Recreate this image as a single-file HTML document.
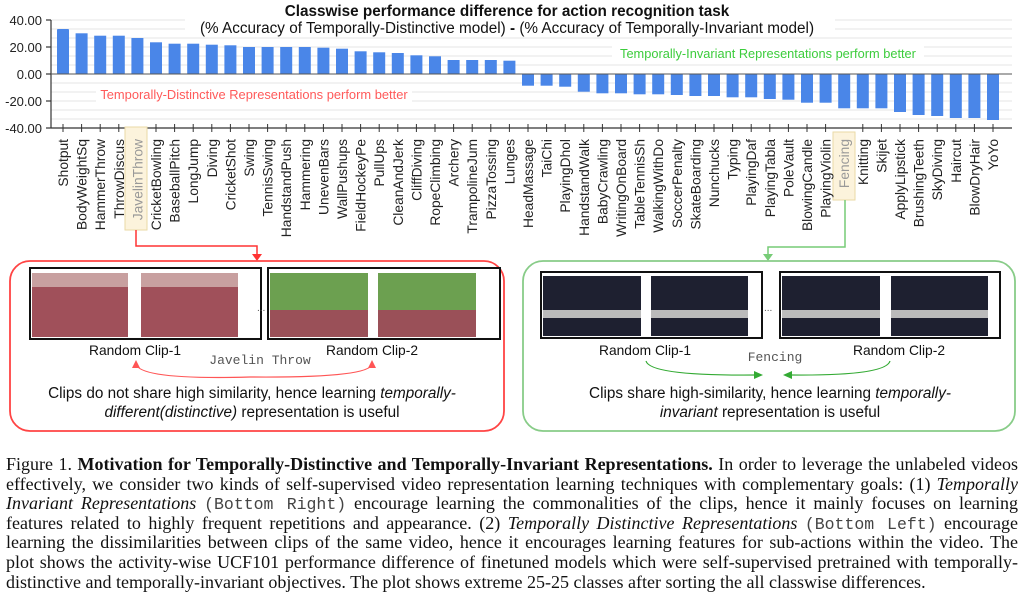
<!DOCTYPE html>
<html><head><meta charset="utf-8"><style>
body{margin:0;width:1024px;height:615px;background:#fff;overflow:hidden;position:relative;font-family:"Liberation Sans",sans-serif}
svg{position:absolute;left:0;top:0}
.cap{position:absolute;left:6px;top:455px;width:1012px;font-family:"Liberation Serif",serif;font-size:18px;line-height:19.6px;color:#111}
.cap div{text-align:justify;text-align-last:justify;white-space:nowrap;height:19.6px}
.cap div.l{text-align-last:left}
.m{font-family:"Liberation Mono",monospace;color:#444;font-size:16.5px;line-height:0}
</style></head><body>
<svg width="1024" height="440" viewBox="0 0 1024 440">
<g stroke="#e6e6e6" stroke-width="1">
<line x1="51" x2="1012" y1="20" y2="20"/><line x1="51" x2="1012" y1="29" y2="29"/><line x1="51" x2="1012" y1="38" y2="38"/><line x1="51" x2="1012" y1="47" y2="47"/><line x1="51" x2="1012" y1="56" y2="56"/><line x1="51" x2="1012" y1="65" y2="65"/><line x1="51" x2="1012" y1="83" y2="83"/><line x1="51" x2="1012" y1="92" y2="92"/><line x1="51" x2="1012" y1="101" y2="101"/><line x1="51" x2="1012" y1="110" y2="110"/><line x1="51" x2="1012" y1="119" y2="119"/>
</g>
<rect x="185" y="0" width="650" height="36" fill="#fff"/>
<rect x="96" y="84" width="316" height="18" fill="#fff"/>
<rect x="612" y="43" width="312" height="18" fill="#fff"/>
<text x="507" y="16" text-anchor="middle" font-size="15.3" font-weight="bold" fill="#111">Classwise performance difference for action recognition task</text>
<text x="507" y="33" text-anchor="middle" font-size="15.3" fill="#111">(% Accuracy of Temporally-Distinctive model) <tspan font-weight="bold">-</tspan> (% Accuracy of Temporally-Invariant model)</text>
<text x="254" y="99" text-anchor="middle" font-size="12.9" fill="#ff5a5a">Temporally-Distinctive Representations perform better</text>
<text x="768" y="58" text-anchor="middle" font-size="12.8" fill="#3ccc3c">Temporally-Invariant Representations perform better</text>
<g font-size="13" fill="#222" text-anchor="end">
<text x="42" y="25">40.00</text><text x="42" y="52">20.00</text><text x="42" y="79">0.00</text><text x="42" y="106">-20.00</text><text x="42" y="133">-40.00</text>
</g>
<g fill="#4a86e8">
<rect x="57" y="29" width="12" height="45" rx="1"/><rect x="75.6" y="33.3" width="12" height="40.7"/><rect x="94.2" y="35.7" width="12" height="38.3"/><rect x="112.8" y="35.7" width="12" height="38.3"/><rect x="131.4" y="38" width="12" height="36"/><rect x="150" y="42.3" width="12" height="31.7"/><rect x="168.6" y="43.7" width="12" height="30.3"/><rect x="187.2" y="43.7" width="12" height="30.3"/><rect x="205.8" y="44.7" width="12" height="29.3"/><rect x="224.4" y="45.3" width="12" height="28.7"/><rect x="243" y="47" width="12" height="27"/><rect x="261.6" y="47" width="12" height="27"/><rect x="280.2" y="47" width="12" height="27"/><rect x="298.8" y="47" width="12" height="27"/><rect x="317.4" y="47.7" width="12" height="26.3"/><rect x="336" y="48.7" width="12" height="25.3"/><rect x="354.6" y="51.3" width="12" height="22.7"/><rect x="373.2" y="52.3" width="12" height="21.7"/><rect x="391.8" y="53" width="12" height="21"/><rect x="410.4" y="55.3" width="12" height="18.7"/><rect x="429" y="56.3" width="12" height="17.7"/><rect x="447.6" y="60" width="12" height="14"/><rect x="466.2" y="60" width="12" height="14"/><rect x="484.8" y="60" width="12" height="14"/><rect x="503.4" y="60.7" width="12" height="13.3"/>
<rect x="522" y="74" width="12" height="11.7"/><rect x="540.6" y="74" width="12" height="11.7"/><rect x="559.2" y="74" width="12" height="12.7"/><rect x="577.8" y="74" width="12" height="17.7"/><rect x="596.4" y="74" width="12" height="19.3"/><rect x="615" y="74" width="12" height="19.3"/><rect x="633.6" y="74" width="12" height="20.3"/><rect x="652.2" y="74" width="12" height="20.3"/><rect x="670.8" y="74" width="12" height="21"/><rect x="689.4" y="74" width="12" height="22"/><rect x="708" y="74" width="12" height="22"/><rect x="726.6" y="74" width="12" height="23.3"/><rect x="745.2" y="74" width="12" height="23.3"/><rect x="763.8" y="74" width="12" height="25"/><rect x="782.4" y="74" width="12" height="25.7"/><rect x="801" y="74" width="12" height="28.7"/><rect x="819.6" y="74" width="12" height="28.7"/><rect x="838.2" y="74" width="12" height="34.3"/><rect x="856.8" y="74" width="12" height="34.3"/><rect x="875.4" y="74" width="12" height="34.3"/><rect x="894" y="74" width="12" height="38"/><rect x="912.6" y="74" width="12" height="41"/><rect x="931.2" y="74" width="12" height="42"/><rect x="949.8" y="74" width="12" height="44"/><rect x="968.4" y="74" width="12" height="44"/><rect x="987" y="74" width="12" height="46"/>
</g>
<g stroke="#333" stroke-width="1.2">
<line x1="51" y1="20" x2="51" y2="128"/><line x1="46" y1="20" x2="51" y2="20"/><line x1="46" y1="47" x2="51" y2="47"/><line x1="46" y1="74" x2="51" y2="74"/><line x1="46" y1="101" x2="51" y2="101"/><line x1="46" y1="128" x2="51" y2="128"/>
<line x1="51" y1="74" x2="1012" y2="74" stroke="#555" stroke-width="1"/>
<line x1="51" y1="128" x2="1012" y2="128"/>
</g>
<g stroke="#333" stroke-width="1">
<line x1="63" y1="124" x2="63" y2="132"/><line x1="81.6" y1="124" x2="81.6" y2="132"/><line x1="100.2" y1="124" x2="100.2" y2="132"/><line x1="118.8" y1="124" x2="118.8" y2="132"/><line x1="156" y1="124" x2="156" y2="132"/><line x1="174.6" y1="124" x2="174.6" y2="132"/><line x1="193.2" y1="124" x2="193.2" y2="132"/><line x1="211.8" y1="124" x2="211.8" y2="132"/><line x1="230.4" y1="124" x2="230.4" y2="132"/><line x1="249" y1="124" x2="249" y2="132"/><line x1="267.6" y1="124" x2="267.6" y2="132"/><line x1="286.2" y1="124" x2="286.2" y2="132"/><line x1="304.8" y1="124" x2="304.8" y2="132"/><line x1="323.4" y1="124" x2="323.4" y2="132"/><line x1="342" y1="124" x2="342" y2="132"/><line x1="360.6" y1="124" x2="360.6" y2="132"/><line x1="379.2" y1="124" x2="379.2" y2="132"/><line x1="397.8" y1="124" x2="397.8" y2="132"/><line x1="416.4" y1="124" x2="416.4" y2="132"/><line x1="435" y1="124" x2="435" y2="132"/><line x1="453.6" y1="124" x2="453.6" y2="132"/><line x1="472.2" y1="124" x2="472.2" y2="132"/><line x1="490.8" y1="124" x2="490.8" y2="132"/><line x1="509.4" y1="124" x2="509.4" y2="132"/><line x1="528" y1="124" x2="528" y2="132"/><line x1="546.6" y1="124" x2="546.6" y2="132"/><line x1="565.2" y1="124" x2="565.2" y2="132"/><line x1="583.8" y1="124" x2="583.8" y2="132"/><line x1="602.4" y1="124" x2="602.4" y2="132"/><line x1="621" y1="124" x2="621" y2="132"/><line x1="639.6" y1="124" x2="639.6" y2="132"/><line x1="658.2" y1="124" x2="658.2" y2="132"/><line x1="676.8" y1="124" x2="676.8" y2="132"/><line x1="695.4" y1="124" x2="695.4" y2="132"/><line x1="714" y1="124" x2="714" y2="132"/><line x1="732.6" y1="124" x2="732.6" y2="132"/><line x1="751.2" y1="124" x2="751.2" y2="132"/><line x1="769.8" y1="124" x2="769.8" y2="132"/><line x1="788.4" y1="124" x2="788.4" y2="132"/><line x1="807" y1="124" x2="807" y2="132"/><line x1="825.6" y1="124" x2="825.6" y2="132"/><line x1="862.8" y1="124" x2="862.8" y2="132"/><line x1="881.4" y1="124" x2="881.4" y2="132"/><line x1="900" y1="124" x2="900" y2="132"/><line x1="918.6" y1="124" x2="918.6" y2="132"/><line x1="937.2" y1="124" x2="937.2" y2="132"/><line x1="955.8" y1="124" x2="955.8" y2="132"/><line x1="974.4" y1="124" x2="974.4" y2="132"/><line x1="993" y1="124" x2="993" y2="132"/>
</g>
<rect x="125" y="127" width="22" height="103" fill="#fcf3dc" stroke="#ead9a6"/>
<rect x="833" y="132" width="22" height="68" fill="#fcf3dc" stroke="#ead9a6"/>
<g font-size="13.8" fill="#222" text-anchor="end">
<text transform="translate(68,139) rotate(-90)">Shotput</text>
<text transform="translate(86.6,139) rotate(-90)">BodyWeightSq</text>
<text transform="translate(105.2,139) rotate(-90)">HammerThrow</text>
<text transform="translate(123.8,139) rotate(-90)">ThrowDiscus</text>
<text transform="translate(142.4,139) rotate(-90)" fill="#999">JavelinThrow</text>
<text transform="translate(161,139) rotate(-90)">CricketBowling</text>
<text transform="translate(179.6,139) rotate(-90)">BaseballPitch</text>
<text transform="translate(198.2,139) rotate(-90)">LongJump</text>
<text transform="translate(216.8,139) rotate(-90)">Diving</text>
<text transform="translate(235.4,139) rotate(-90)">CricketShot</text>
<text transform="translate(254,139) rotate(-90)">Swing</text>
<text transform="translate(272.6,139) rotate(-90)">TennisSwing</text>
<text transform="translate(291.2,139) rotate(-90)">HandstandPush</text>
<text transform="translate(309.8,139) rotate(-90)">Hammering</text>
<text transform="translate(328.4,139) rotate(-90)">UnevenBars</text>
<text transform="translate(347,139) rotate(-90)">WallPushups</text>
<text transform="translate(365.6,139) rotate(-90)">FieldHockeyPe</text>
<text transform="translate(384.2,139) rotate(-90)">PullUps</text>
<text transform="translate(402.8,139) rotate(-90)">CleanAndJerk</text>
<text transform="translate(421.4,139) rotate(-90)">CliffDiving</text>
<text transform="translate(440,139) rotate(-90)">RopeClimbing</text>
<text transform="translate(458.6,139) rotate(-90)">Archery</text>
<text transform="translate(477.2,139) rotate(-90)">TrampolineJum</text>
<text transform="translate(495.8,139) rotate(-90)">PizzaTossing</text>
<text transform="translate(514.4,139) rotate(-90)">Lunges</text>
<text transform="translate(533,139) rotate(-90)">HeadMassage</text>
<text transform="translate(551.6,139) rotate(-90)">TaiChi</text>
<text transform="translate(570.2,139) rotate(-90)">PlayingDhol</text>
<text transform="translate(588.8,139) rotate(-90)">HandstandWalk</text>
<text transform="translate(607.4,139) rotate(-90)">BabyCrawling</text>
<text transform="translate(626,139) rotate(-90)">WritingOnBoard</text>
<text transform="translate(644.6,139) rotate(-90)">TableTennisSh</text>
<text transform="translate(663.2,139) rotate(-90)">WalkingWithDo</text>
<text transform="translate(681.8,139) rotate(-90)">SoccerPenalty</text>
<text transform="translate(700.4,139) rotate(-90)">SkateBoarding</text>
<text transform="translate(719,139) rotate(-90)">Nunchucks</text>
<text transform="translate(737.6,139) rotate(-90)">Typing</text>
<text transform="translate(756.2,139) rotate(-90)">PlayingDaf</text>
<text transform="translate(774.8,139) rotate(-90)">PlayingTabla</text>
<text transform="translate(793.4,139) rotate(-90)">PoleVault</text>
<text transform="translate(812,139) rotate(-90)">BlowingCandle</text>
<text transform="translate(830.6,139) rotate(-90)">PlayingViolin</text>
<text transform="translate(849.2,139) rotate(-90)" fill="#999">Fencing</text>
<text transform="translate(867.8,139) rotate(-90)">Knitting</text>
<text transform="translate(886.4,139) rotate(-90)">Skijet</text>
<text transform="translate(905,139) rotate(-90)">ApplyLipstick</text>
<text transform="translate(923.6,139) rotate(-90)">BrushingTeeth</text>
<text transform="translate(942.2,139) rotate(-90)">SkyDiving</text>
<text transform="translate(960.8,139) rotate(-90)">Haircut</text>
<text transform="translate(979.4,139) rotate(-90)">BlowDryHair</text>
<text transform="translate(998,139) rotate(-90)">YoYo</text>
</g>
<polyline points="136,230 136,246 257,246 257,256" fill="none" stroke="#f33" stroke-width="1.5"/>
<polygon points="252,254 262,254 257,261" fill="#f33"/>
<polyline points="845,200 845,247 768,247 768,256" fill="none" stroke="#7c7" stroke-width="1.5"/>
<polygon points="763,254 773,254 768,261" fill="#7c7"/>
<rect x="10" y="261" width="494" height="170" rx="20" fill="none" stroke="#f44" stroke-width="1.8"/>
<rect x="523" y="261" width="492" height="170" rx="20" fill="none" stroke="#8c8" stroke-width="1.8"/>
<rect x="30" y="268" width="231" height="71" fill="#fff" stroke="#111" stroke-width="2"/>
<rect x="32" y="273" width="96" height="64" fill="#a0505a"/><rect x="32" y="273" width="96" height="14" fill="#c8a0a0"/>
<rect x="141" y="273" width="97" height="64" fill="#a0505a"/><rect x="141" y="273" width="97" height="14" fill="#c8a0a0"/>
<rect x="268" y="268" width="232" height="71" fill="#fff" stroke="#111" stroke-width="2"/>
<rect x="270" y="273" width="98" height="64" fill="#9a5058"/><rect x="270" y="273" width="98" height="37" fill="#6ca050"/>
<rect x="378" y="273" width="98" height="64" fill="#9a5058"/><rect x="378" y="273" width="98" height="37" fill="#6ca050"/>
<text x="257" y="311" font-size="10" fill="#555">...</text>
<rect x="541" y="272" width="221" height="66" fill="#fff" stroke="#111" stroke-width="2"/>
<rect x="543" y="276" width="98" height="60" fill="#1e2030"/><rect x="543" y="310" width="98" height="8" fill="#bbb"/>
<rect x="651" y="276" width="97" height="60" fill="#1e2030"/><rect x="651" y="310" width="97" height="8" fill="#bbb"/>
<rect x="780" y="272" width="220" height="66" fill="#fff" stroke="#111" stroke-width="2"/>
<rect x="782" y="276" width="98" height="60" fill="#1e2030"/><rect x="782" y="310" width="98" height="8" fill="#bbb"/>
<rect x="891" y="276" width="97" height="60" fill="#1e2030"/><rect x="891" y="310" width="97" height="8" fill="#bbb"/>
<text x="764" y="311" font-size="10" fill="#555">...</text>
<g font-size="13.8" fill="#111" text-anchor="middle">
<text x="135" y="355">Random Clip-1</text><text x="372" y="355">Random Clip-2</text>
<text x="645" y="355">Random Clip-1</text><text x="899" y="355">Random Clip-2</text>
<text x="252" y="398" font-size="15.3">Clips do not share high similarity, hence learning <tspan font-style="italic">temporally-</tspan></text>
<text x="252" y="417" font-size="15.3"><tspan font-style="italic">different(distinctive)</tspan> representation is useful</text>
<text x="770" y="398" font-size="15.3">Clips share high-similarity, hence learning <tspan font-style="italic">temporally-</tspan></text>
<text x="770" y="417" font-size="15.3"><tspan font-style="italic">invariant</tspan> representation is useful</text>
</g>
<text x="260" y="364" text-anchor="middle" font-family="Liberation Mono,monospace" font-size="13" fill="#555">Javelin Throw</text>
<text x="775" y="361" text-anchor="middle" font-family="Liberation Mono,monospace" font-size="13" fill="#555">Fencing</text>
<path d="M136,364 Q140,380 250,377 Q370,378 372,364" fill="none" stroke="#f55" stroke-width="1.2"/>
<polygon points="132,368 136,360 140,368" fill="#f55"/><polygon points="368,368 372,360 376,368" fill="#f55"/>
<path d="M646,361 Q650,376 756,375" fill="none" stroke="#3a3" stroke-width="1.2"/>
<polygon points="754,371 763,375 754,379" fill="#3a3"/>
<path d="M890,361 Q886,376 790,375" fill="none" stroke="#3a3" stroke-width="1.2"/>
<polygon points="792,371 783,375 792,379" fill="#3a3"/>
</svg>
<div class="cap">
<div>Figure 1. <b>Motivation for Temporally-Distinctive and Temporally-Invariant Representations.</b> In order to leverage the unlabeled videos</div>
<div>effectively, we consider two kinds of self-supervised video representation learning techniques with complementary goals: (1) <i>Temporally</i></div>
<div><i>Invariant Representations</i> <span class="m">(Bottom Right)</span> encourage learning the commonalities of the clips, hence it mainly focuses on learning</div>
<div>features related to highly frequent repetitions and appearance. (2) <i>Temporally Distinctive Representations</i> <span class="m">(Bottom Left)</span> encourage</div>
<div>learning the dissimilarities between clips of the same video, hence it encourages learning features for sub-actions within the video. The</div>
<div>plot shows the activity-wise UCF101 performance difference of finetuned models which were self-supervised pretrained with temporally-</div>
<div class="l">distinctive and temporally-invariant objectives. The plot shows extreme 25-25 classes after sorting the all classwise differences.</div>
</div>
</body></html>
